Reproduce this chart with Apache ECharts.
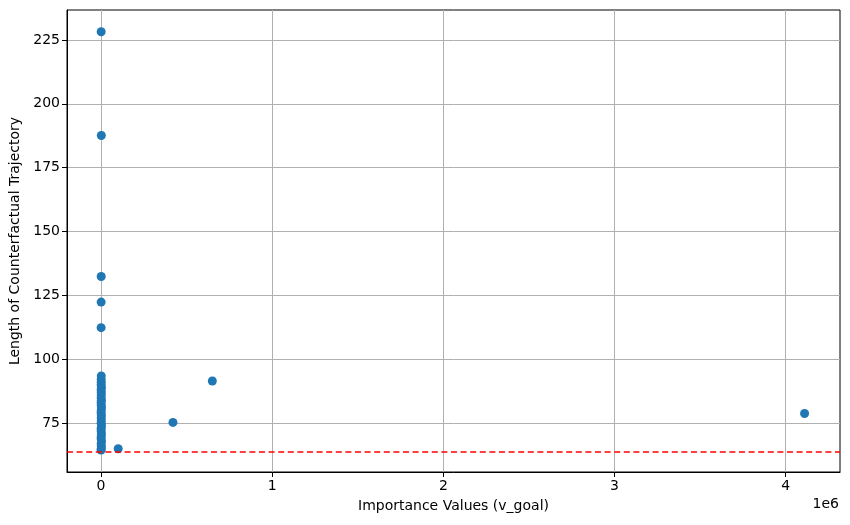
<!DOCTYPE html>
<html>
<head>
<meta charset="utf-8">
<script src="https://cdn.jsdelivr.net/npm/echarts@6/dist/echarts.min.js"></script>
<style>
  html, body { margin: 0; padding: 0; background: #fff; }
  #chart { width: 850px; height: 525px; }
</style>
</head>
<body>
<div id="chart"></div>
<script>
// importance values (v_goal) and trajectory lengths
var importance = [
  200, 900, 1500, 600, 2500, 300, 1100, 1800, 400, 700,
  2200, 500, 1300, 900, 1600, 250, 800, 2000, 1200, 450,
  1700, 650, 950, 1400, 350, 1900, 550, 1000, 750, 1250,
  300, 500, 800, 1500, 600,
  100000, 420000, 650000, 4110000
];
var trajLength = [
  64.5, 65, 66, 67, 68, 69, 70, 71, 72, 73,
  74, 75, 76, 77, 78, 79, 80, 81, 82, 83,
  84, 85, 86, 87, 88, 89, 90, 91, 92, 93.5,
  112.4, 122.4, 132.4, 187.6, 228.2,
  65, 75.3, 91.5, 78.8
];
var baseline = 64;
var xTicks = [0, 1e6, 2e6, 3e6, 4e6];
var yTicks = [75, 100, 125, 150, 175, 200, 225];

var points = importance.map(function (v, i) { return [v, trajLength[i]]; });

var chart = echarts.init(document.getElementById("chart"));
var font = "DejaVu Sans";
chart.setOption({
  animation: false,
  grid: {
    left: 67,
    right: 10,
    top: 10,
    bottom: 53,
    show: true,
    borderColor: "#000",
    borderWidth: 1,
  },
  xAxis: {
    type: "value",
    min: -199000,
    max: 4317000,
    name: "Importance Values (v_goal)",
    nameLocation: "middle",
    nameGap: 27,
    nameTextStyle: { color: "#000", fontFamily: font, fontSize: 14 },
    axisLine: { show: true, onZero: false, lineStyle: { color: "#000", width: 1 } },
    axisTick: { show: true, inside: false, length: 5, customValues: xTicks, lineStyle: { color: "#000" } },
    axisLabel: {
      customValues: xTicks,
      color: "#000",
      fontFamily: font,
      fontSize: 14,
      margin: 7,
      formatter: function (v) { return String(Math.round(v / 1e6)); },
    },
    splitLine: { show: true, customValues: xTicks, lineStyle: { color: "#b0b0b0", width: 1 } },
  },
  yAxis: {
    type: "value",
    min: 55.9,
    max: 236.7,
    name: "Length of Counterfactual Trajectory",
    nameLocation: "middle",
    nameGap: 42,
    nameTextStyle: { color: "#000", fontFamily: font, fontSize: 14 },
    axisLine: { show: true, onZero: false, lineStyle: { color: "#000", width: 1 } },
    axisTick: { show: true, inside: false, length: 5, customValues: yTicks, lineStyle: { color: "#000" } },
    axisLabel: {
      customValues: yTicks,
      color: "#000",
      fontFamily: font,
      fontSize: 14,
      margin: 7,
    },
    splitLine: { show: true, customValues: yTicks, lineStyle: { color: "#b0b0b0", width: 1 } },
  },
  graphic: [
    {
      type: "text",
      right: 11,
      top: 497,
      style: { text: "1e6", fill: "#000", font: "14px DejaVu Sans" },
    },
  ],
  series: [
    {
      type: "scatter",
      data: points,
      symbolSize: 9,
      itemStyle: { color: "#1f77b4", opacity: 1 },
      markLine: {
        silent: true,
        symbol: "none",
        label: { show: false },
        lineStyle: { color: "#ff0000", type: [6, 3.6], width: 1.5 },
        data: [{ yAxis: baseline }],
      },
    },
  ],
});
</script>
</body>
</html>
